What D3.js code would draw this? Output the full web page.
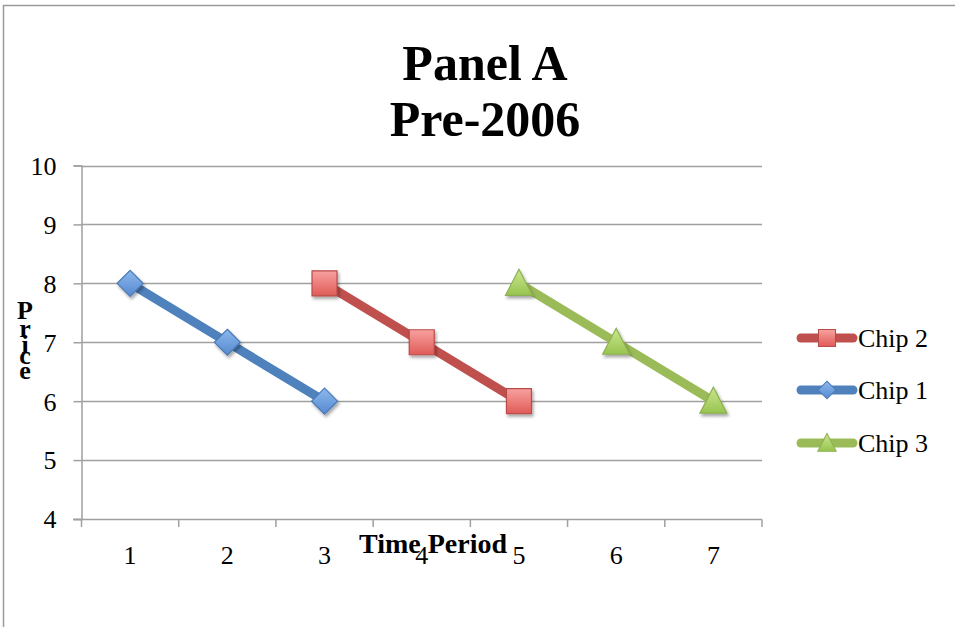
<!DOCTYPE html>
<html>
<head>
<meta charset="utf-8">
<script src="https://cdn.jsdelivr.net/npm/d3@7"></script>
<style>
  html, body { margin: 0; padding: 0; background: #fff; }
  svg { display: block; }
  text { font-family: "Liberation Serif", "Times New Roman", serif; fill: #000; }
</style>
</head>
<body>
<svg id="chart" width="955" height="627"></svg>
<script>
// Time periods on the horizontal axis
const periods = ["1", "2", "3", "4", "5", "6", "7"];
// Price of each chip by period (null where the chip is not on sale)
const chip1 = [8, 7, 6, null, null, null, null];
const chip2 = [null, null, 8, 7, 6, null, null];
const chip3 = [null, null, null, null, 8, 7, 6];
// Vertical axis ticks
const priceTicks = [4, 5, 6, 7, 8, 9, 10];
const titleLines = ["Panel A", "Pre-2006"];
// Legend order as shown beside the plot
const legendOrder = ["Chip 2", "Chip 1", "Chip 3"];

const series = [
  { name: "Chip 1", values: chip1, color: "#4f81bd", shape: "diamond", fillTop: "#8cb8ee", fillBot: "#5689cf", stroke: "#4a7ab5" },
  { name: "Chip 2", values: chip2, color: "#c0504d", shape: "square", fillTop: "#f7a19f", fillBot: "#e05b57", stroke: "#b94b48" },
  { name: "Chip 3", values: chip3, color: "#9bbb59", shape: "triangle", fillTop: "#cbe68f", fillBot: "#97c450", stroke: "#8db04f" }
];

const svg = d3.select("#chart");
const defs = svg.append("defs");

// Soft shadow under the markers
const shadow = defs.append("filter").attr("id", "shadow")
  .attr("x", "-50%").attr("y", "-50%").attr("width", "200%").attr("height", "200%");
shadow.append("feDropShadow").attr("dx", 1.5).attr("dy", 2.5).attr("stdDeviation", 1.6)
  .attr("flood-color", "#000").attr("flood-opacity", 0.35);

series.forEach((s, i) => {
  const g = defs.append("linearGradient").attr("id", "grad" + i)
    .attr("x1", 0).attr("y1", 0).attr("x2", 0).attr("y2", 1);
  g.append("stop").attr("offset", "0%").attr("stop-color", s.fillTop);
  g.append("stop").attr("offset", "100%").attr("stop-color", s.fillBot);
  s.grad = "url(#grad" + i + ")";
});

// Outer frame
svg.append("rect")
  .attr("x", 3.5).attr("y", 5.5).attr("width", 1000).attr("height", 700)
  .attr("fill", "none").attr("stroke", "#9a9a9a").attr("stroke-width", 1.5);

// Scales
const x = d3.scaleBand().domain(periods).range([81.5, 762]).padding(0);
const y = d3.scaleLinear().domain([4, 10]).range([519, 165.5]);
const cx = p => x(p) + x.bandwidth() / 2;

const axisColor = "#a0a0a0";

// Horizontal gridlines
svg.append("g").selectAll("line").data(priceTicks.filter(t => t > 4)).join("line")
  .attr("x1", 81.5).attr("x2", 762)
  .attr("y1", d => Math.round(y(d)) + 0.5).attr("y2", d => Math.round(y(d)) + 0.5)
  .attr("stroke", axisColor).attr("stroke-width", 1.5);

// Y axis
const yAxis = svg.append("g").attr("transform", "translate(81.5,0)")
  .call(d3.axisLeft(y).tickValues(priceTicks).tickSize(8).tickPadding(17).tickFormat(d3.format("d")));
yAxis.select(".domain").attr("stroke", axisColor).attr("stroke-width", 1.5);
yAxis.selectAll(".tick line").attr("stroke", axisColor).attr("stroke-width", 1.5);
yAxis.selectAll(".tick text").attr("font-size", 26)
  .attr("font-family", "Liberation Serif, serif").attr("fill", "#000").attr("dy", "0.34em");

// X axis: labels centred in each period, tick marks on period boundaries
const xAxis = svg.append("g").attr("transform", "translate(0,519.5)")
  .call(d3.axisBottom(x).tickSize(0).tickPadding(0));
xAxis.select(".domain").remove();
xAxis.selectAll(".tick text").attr("font-size", 26)
  .attr("font-family", "Liberation Serif, serif").attr("fill", "#000")
  .attr("y", 44).attr("dy", 0);

const edges = periods.map(p => x(p)).concat([x(periods[periods.length - 1]) + x.bandwidth()]);
svg.append("line").attr("x1", 73).attr("x2", 762).attr("y1", 519.5).attr("y2", 519.5)
  .attr("stroke", axisColor).attr("stroke-width", 1.5);
svg.append("g").selectAll("line").data(edges).join("line")
  .attr("x1", d => d).attr("x2", d => d).attr("y1", 519.5).attr("y2", 527)
  .attr("stroke", axisColor).attr("stroke-width", 1.5);

// Marker shapes
function markerPath(shape) {
  if (shape === "square") return "M-12.5,-12.5H12.5V12.5H-12.5Z";
  if (shape === "diamond") return "M0,-13L13,0L0,13L-13,0Z";
  return "M0,-14L13.5,12L-13.5,12Z";
}

// Lines and markers
const line = d3.line()
  .defined(d => d.v != null)
  .x(d => cx(d.p))
  .y(d => y(d.v));

const plot = svg.append("g");
series.forEach(s => {
  const pts = periods.map((p, i) => ({ p, v: s.values[i] }));
  plot.append("path").datum(pts)
    .attr("d", line)
    .attr("fill", "none").attr("stroke", s.color)
    .attr("stroke-width", 9).attr("stroke-linejoin", "round");
});
series.forEach(s => {
  const pts = periods.map((p, i) => ({ p, v: s.values[i] })).filter(d => d.v != null);
  plot.append("g").selectAll("path").data(pts).join("path")
    .attr("transform", d => `translate(${cx(d.p)},${y(d.v)})`)
    .attr("d", markerPath(s.shape))
    .attr("fill", s.grad).attr("stroke", s.stroke).attr("stroke-width", 1.2)
    .attr("filter", "url(#shadow)");
});

// Title
svg.append("text").attr("x", 485).attr("text-anchor", "middle")
  .attr("font-size", 50).attr("font-weight", "bold")
  .selectAll("tspan").data(titleLines).join("tspan")
  .attr("x", 485).attr("y", (d, i) => 80 + i * 56).text(d => d);

// Axis titles (vertical, one letter per line)
const priceLetters = ["P", "r", "i", "c", "e"];
const priceBase = [319, 337, 353, 364, 379];
svg.append("g").selectAll("text").data(priceLetters).join("text")
  .attr("x", 25).attr("y", (d, i) => priceBase[i])
  .attr("text-anchor", "middle").attr("font-size", 26).attr("font-weight", "bold")
  .text(d => d);

svg.append("text").attr("x", 433).attr("y", 553).attr("text-anchor", "middle")
  .attr("font-size", 28).attr("font-weight", "bold").text("Time Period");

// Legend
const legend = svg.append("g");
const legendY = [338, 390, 443];
legendOrder.forEach((name, i) => {
  const s = series.find(d => d.name === name);
  const g = legend.append("g").attr("transform", `translate(0,${legendY[i]})`);
  g.append("line").attr("x1", 801).attr("x2", 853).attr("y1", 0).attr("y2", 0)
    .attr("stroke", s.color).attr("stroke-width", 9).attr("stroke-linecap", "round");
  g.append("path").attr("transform", "translate(827,0) scale(0.68)")
    .attr("d", markerPath(s.shape))
    .attr("fill", s.grad).attr("stroke", s.stroke).attr("stroke-width", 1.5);
  g.append("text").attr("x", 858).attr("y", 0).attr("dy", "0.35em")
    .attr("font-size", 26).text(name);
});
</script>
</body>
</html>
